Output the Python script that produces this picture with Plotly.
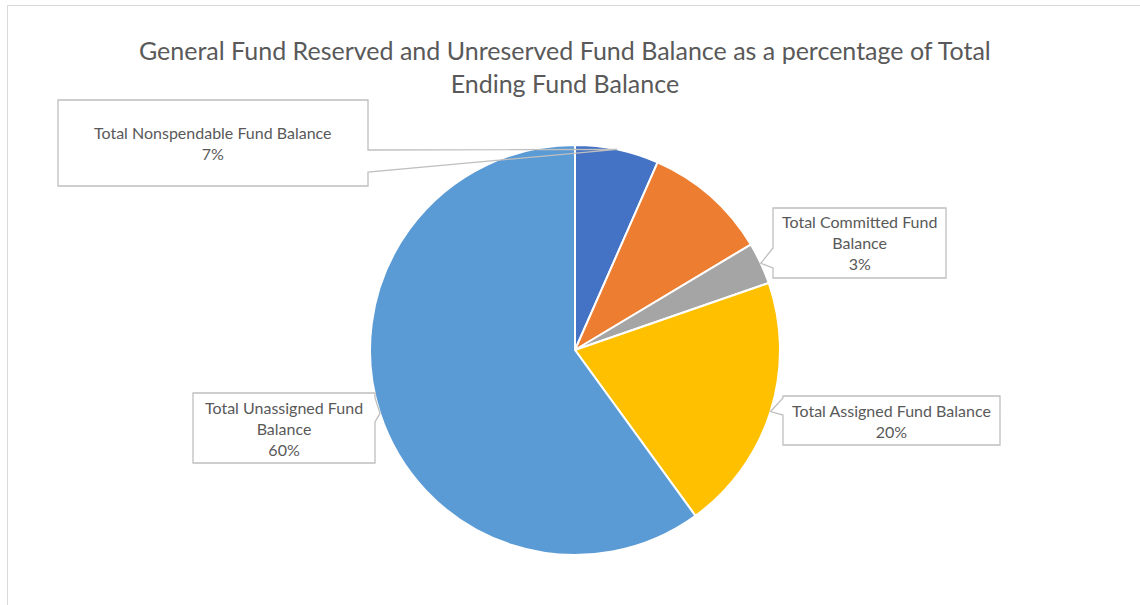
import math
import plotly.graph_objects as go

# Fund balance components (share of total ending fund balance)
categories = [
    "Total Nonspendable Fund Balance",
    "Total Restricted Fund Balance",
    "Total Committed Fund Balance",
    "Total Assigned Fund Balance",
    "Total Unassigned Fund Balance",
]
shares = [6.6, 9.8, 3.3, 20.3, 60.0]
colors = ["#4472C4", "#ED7D31", "#A5A5A5", "#FFC000", "#5B9BD5"]
# Which slices carry a callout label, and how the label text wraps
callout_text = {
    0: "Total Nonspendable Fund Balance",
    2: "Total Committed Fund<br>Balance",
    3: "Total Assigned Fund Balance",
    4: "Total Unassigned Fund<br>Balance",
}

W, H = 1140, 605
FONT = "Lato, 'Open Sans', sans-serif"
TEXT_GRAY = "#595959"
LINE_GRAY = "#BFBFBF"

# pie placement in pixels
CX, CY, R = 575, 350, 205


def fx(x):
    return x / W


def fy(y):
    return 1 - y / H


fig = go.Figure()
fig.add_trace(go.Pie(
    labels=categories,
    values=shares,
    sort=False,
    direction="clockwise",
    rotation=0,
    marker=dict(colors=colors, line=dict(color="white", width=2)),
    textinfo="none",
    hoverinfo="label+percent",
    showlegend=False,
    domain=dict(x=[fx(CX - R), fx(CX + R)], y=[fy(CY + R), fy(CY - R)]),
))

# callout boxes: (left, top, right, bottom) in pixels, and side of the pointer
boxes = {
    0: ((58, 100, 368, 186), "right", (150, 172)),
    2: ((773, 208, 946, 278), "left", (248, 268)),
    3: ((783, 396, 1000, 445), "left", (398, 415)),
    4: ((193, 393, 375, 463), "right", (398, 422)),
}

total = sum(shares)
shapes = []
annotations = []
cum = 0.0
for i, v in enumerate(shares):
    mid = (cum + v / 2) / total * 2 * math.pi
    cum += v
    if i not in callout_text:
        continue
    tipx = CX + R * math.sin(mid)
    tipy = CY - R * math.cos(mid)
    (x0, y0, x1, y1), side, (wa, wb) = boxes[i]
    if side == "right":
        pts = [(x0, y0), (x1, y0), (x1, wa), (tipx, tipy), (x1, wb), (x1, y1), (x0, y1)]
    else:
        pts = [(x0, y0), (x1, y0), (x1, y1), (x0, y1), (x0, wb), (tipx, tipy), (x0, wa)]
    path = "M " + " L ".join(f"{fx(px):.5f},{fy(py):.5f}" for px, py in pts) + " Z"
    shapes.append(dict(type="path", xref="paper", yref="paper", path=path,
                       line=dict(color=LINE_GRAY, width=1.3), fillcolor="rgba(0,0,0,0)",
                       layer="above"))
    pct = round(v / total * 100)
    annotations.append(dict(
        x=fx((x0 + x1) / 2), y=fy((y0 + y1) / 2), xref="paper", yref="paper",
        xanchor="center", yanchor="middle", showarrow=False,
        text=f"{callout_text[i]}<br>{pct}%", align="center",
        font=dict(family=FONT, size=16, color=TEXT_GRAY),
    ))

# chart area frame
shapes.append(dict(type="rect", xref="paper", yref="paper",
                   x0=fx(7.5), y0=-0.05, x1=1.05, y1=fy(5.5),
                   line=dict(color="#D9D9D9", width=1), fillcolor="rgba(0,0,0,0)",
                   layer="below"))

annotations.append(dict(
    x=fx(565), y=fy(66), xref="paper", yref="paper", xanchor="center", yanchor="middle",
    showarrow=False, align="center",
    text="General Fund Reserved and Unreserved Fund Balance as a percentage of Total<br>Ending Fund Balance",
    font=dict(family=FONT, size=25, color=TEXT_GRAY),
))

fig.update_layout(
    width=W, height=H,
    margin=dict(l=0, r=0, t=0, b=0),
    paper_bgcolor="white",
    plot_bgcolor="white",
    shapes=shapes,
    annotations=annotations,
)

fig.write_html("out.html")
